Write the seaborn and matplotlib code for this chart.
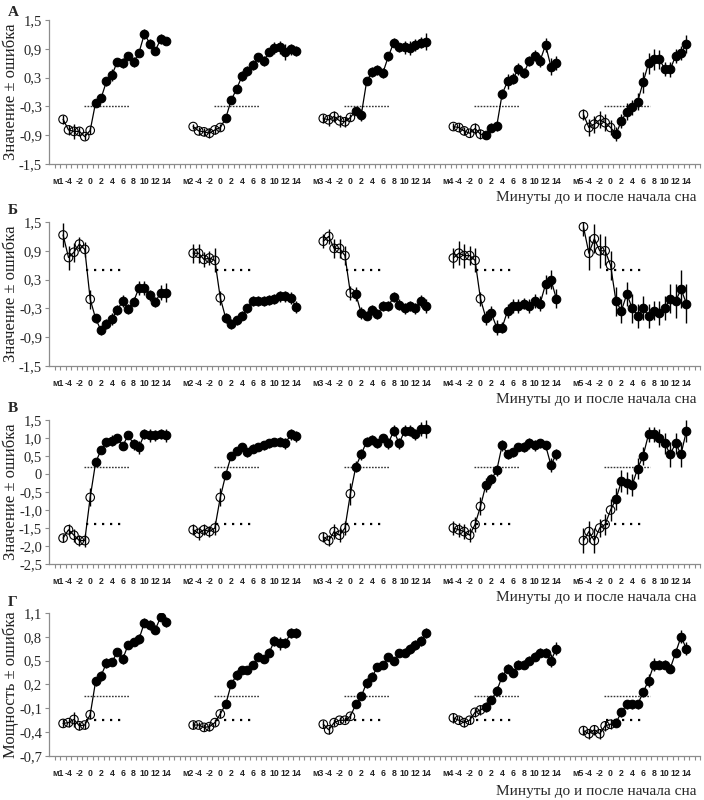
import numpy as np
import pandas as pd
import matplotlib
matplotlib.use("Agg")
import matplotlib.pyplot as plt
import seaborn as sns

# ---------------- data ----------------
minutes = list(range(-5, 15))          # minutes before / after sleep onset
n_open = 6                              # -5..0 drawn with open circles
group_names = ["м1", "м2", "м3", "м4", "м5"]
panel_letters = ["А", "Б", "В", "Г"]
y_titles = ["Значение ± ошибка", "Значение ± ошибка", "Значение ± ошибка", "Мощность ± ошибка"]
x_title = "Минуты до и после начала сна"

a_values = [
    [-0.57, -0.79, -0.82, -0.82, -0.93, -0.80, -0.22, -0.13, 0.22, 0.35, 0.63, 0.61, 0.76, 0.62, 0.82, 1.21, 1.01, 0.86, 1.10, 1.07],
    [-0.72, -0.81, -0.83, -0.86, -0.79, -0.74, -0.55, -0.17, 0.06, 0.33, 0.44, 0.56, 0.72, 0.65, 0.83, 0.92, 0.93, 0.83, 0.89, 0.85],
    [-0.55, -0.58, -0.51, -0.60, -0.62, -0.53, -0.39, -0.48, 0.22, 0.42, 0.46, 0.40, 0.74, 1.03, 0.93, 0.93, 0.92, 0.98, 1.03, 1.05],
    [-0.72, -0.74, -0.81, -0.86, -0.76, -0.88, -0.90, -0.74, -0.71, -0.04, 0.22, 0.28, 0.48, 0.39, 0.65, 0.76, 0.65, 0.98, 0.53, 0.60],
    [-0.47, -0.74, -0.67, -0.58, -0.64, -0.74, -0.88, -0.60, -0.41, -0.32, -0.20, 0.20, 0.60, 0.68, 0.68, 0.48, 0.47, 0.75, 0.81, 1.00],
]
a_errors = [
    [0.10, 0.10, 0.15, 0.10, 0.08, 0.08, 0.08, 0.08, 0.10, 0.12, 0.08, 0.10, 0.08, 0.10, 0.08, 0.10, 0.10, 0.08, 0.10, 0.06],
    [0.06, 0.08, 0.08, 0.10, 0.08, 0.08, 0.06, 0.08, 0.08, 0.10, 0.10, 0.10, 0.10, 0.10, 0.08, 0.12, 0.14, 0.16, 0.12, 0.10],
    [0.10, 0.12, 0.12, 0.12, 0.10, 0.08, 0.08, 0.12, 0.08, 0.10, 0.10, 0.10, 0.10, 0.10, 0.10, 0.14, 0.14, 0.12, 0.12, 0.18],
    [0.08, 0.10, 0.08, 0.08, 0.12, 0.10, 0.08, 0.10, 0.10, 0.10, 0.15, 0.12, 0.12, 0.10, 0.10, 0.12, 0.12, 0.14, 0.18, 0.15],
    [0.12, 0.18, 0.18, 0.18, 0.18, 0.15, 0.15, 0.15, 0.18, 0.15, 0.18, 0.22, 0.22, 0.22, 0.20, 0.15, 0.15, 0.15, 0.15, 0.18],
]

b_values = [
    [1.23, 0.76, 0.87, 1.04, 0.93, -0.11, -0.51, -0.76, -0.63, -0.52, -0.33, -0.15, -0.31, -0.16, 0.13, 0.13, -0.03, -0.17, 0.03, 0.03],
    [0.85, 0.85, 0.72, 0.75, 0.70, -0.08, -0.50, -0.62, -0.55, -0.45, -0.30, -0.15, -0.15, -0.15, -0.12, -0.10, -0.05, -0.05, -0.08, -0.27],
    [1.10, 1.20, 0.95, 0.95, 0.80, 0.02, 0.00, -0.40, -0.45, -0.33, -0.42, -0.25, -0.25, -0.06, -0.22, -0.30, -0.25, -0.30, -0.15, -0.25],
    [0.75, 0.85, 0.80, 0.80, 0.70, -0.10, -0.50, -0.40, -0.70, -0.70, -0.35, -0.25, -0.25, -0.20, -0.25, -0.15, -0.20, 0.20, 0.30, -0.10],
    [1.40, 0.85, 1.15, 0.90, 0.90, 0.60, -0.15, -0.35, 0.00, -0.30, -0.45, -0.30, -0.45, -0.35, -0.40, -0.30, -0.10, -0.15, 0.10, -0.20],
]
b_errors = [
    [0.25, 0.25, 0.20, 0.15, 0.15, 0.20, 0.10, 0.10, 0.10, 0.12, 0.10, 0.12, 0.10, 0.10, 0.15, 0.15, 0.12, 0.10, 0.15, 0.20],
    [0.20, 0.20, 0.15, 0.15, 0.25, 0.15, 0.10, 0.10, 0.10, 0.10, 0.10, 0.10, 0.10, 0.10, 0.10, 0.10, 0.12, 0.12, 0.12, 0.12],
    [0.15, 0.15, 0.20, 0.20, 0.20, 0.15, 0.15, 0.12, 0.10, 0.10, 0.10, 0.10, 0.10, 0.10, 0.12, 0.12, 0.10, 0.12, 0.12, 0.15],
    [0.20, 0.25, 0.25, 0.20, 0.25, 0.15, 0.15, 0.15, 0.15, 0.12, 0.15, 0.15, 0.15, 0.12, 0.15, 0.15, 0.15, 0.20, 0.20, 0.20],
    [0.20, 0.35, 0.30, 0.35, 0.30, 0.30, 0.30, 0.25, 0.25, 0.30, 0.25, 0.25, 0.25, 0.20, 0.25, 0.25, 0.30, 0.35, 0.40, 0.40],
]

c_values = [
    [-1.78, -1.55, -1.70, -1.85, -1.85, -0.65, 0.32, 0.67, 0.88, 0.93, 0.99, 0.78, 1.08, 0.83, 0.74, 1.11, 1.08, 1.08, 1.11, 1.08],
    [-1.55, -1.65, -1.55, -1.60, -1.50, -0.65, -0.02, 0.50, 0.65, 0.75, 0.60, 0.70, 0.75, 0.80, 0.85, 0.90, 0.90, 0.85, 1.10, 1.05],
    [-1.75, -1.85, -1.60, -1.70, -1.50, -0.55, 0.20, 0.55, 0.90, 0.95, 0.85, 1.00, 0.85, 1.20, 0.85, 1.20, 1.20, 1.10, 1.25, 1.25],
    [-1.50, -1.55, -1.60, -1.70, -1.40, -0.90, -0.30, -0.15, 0.10, 0.80, 0.55, 0.60, 0.75, 0.75, 0.85, 0.80, 0.85, 0.80, 0.25, 0.55],
    [-1.85, -1.60, -1.85, -1.50, -1.40, -1.00, -0.70, -0.20, -0.25, -0.30, 0.15, 0.50, 1.10, 1.10, 1.00, 0.85, 0.55, 0.85, 0.55, 1.20],
]
c_errors = [
    [0.12, 0.15, 0.18, 0.15, 0.18, 0.25, 0.10, 0.10, 0.12, 0.15, 0.12, 0.12, 0.10, 0.15, 0.18, 0.15, 0.18, 0.15, 0.15, 0.18],
    [0.15, 0.18, 0.15, 0.15, 0.20, 0.25, 0.10, 0.10, 0.10, 0.12, 0.12, 0.12, 0.10, 0.12, 0.12, 0.10, 0.12, 0.15, 0.15, 0.15],
    [0.15, 0.15, 0.20, 0.20, 0.20, 0.30, 0.15, 0.15, 0.12, 0.12, 0.12, 0.12, 0.15, 0.15, 0.15, 0.15, 0.15, 0.15, 0.20, 0.25],
    [0.20, 0.20, 0.20, 0.20, 0.20, 0.25, 0.20, 0.15, 0.15, 0.15, 0.12, 0.12, 0.12, 0.15, 0.15, 0.15, 0.12, 0.12, 0.20, 0.15],
    [0.35, 0.30, 0.35, 0.25, 0.30, 0.30, 0.30, 0.30, 0.30, 0.30, 0.30, 0.25, 0.20, 0.20, 0.25, 0.30, 0.35, 0.30, 0.35, 0.30],
]

d_values = [
    [-0.29, -0.28, -0.24, -0.32, -0.31, -0.18, 0.24, 0.31, 0.47, 0.48, 0.61, 0.52, 0.70, 0.74, 0.77, 0.98, 0.95, 0.89, 1.05, 0.99],
    [-0.31, -0.31, -0.34, -0.33, -0.28, -0.17, -0.05, 0.20, 0.32, 0.38, 0.38, 0.45, 0.55, 0.52, 0.60, 0.75, 0.72, 0.72, 0.85, 0.85],
    [-0.30, -0.37, -0.28, -0.25, -0.25, -0.20, -0.05, 0.05, 0.22, 0.30, 0.42, 0.45, 0.55, 0.50, 0.60, 0.60, 0.65, 0.70, 0.75, 0.85],
    [-0.22, -0.25, -0.28, -0.25, -0.15, -0.12, -0.08, 0.00, 0.12, 0.30, 0.40, 0.35, 0.45, 0.45, 0.50, 0.55, 0.60, 0.60, 0.50, 0.65],
    [-0.38, -0.42, -0.37, -0.42, -0.32, -0.30, -0.28, -0.15, -0.05, -0.05, -0.05, 0.10, 0.25, 0.45, 0.45, 0.45, 0.40, 0.60, 0.80, 0.65],
]
d_errors = [
    [0.05, 0.05, 0.10, 0.05, 0.05, 0.06, 0.06, 0.06, 0.06, 0.05, 0.04, 0.06, 0.05, 0.05, 0.06, 0.06, 0.06, 0.06, 0.05, 0.06],
    [0.05, 0.04, 0.04, 0.05, 0.04, 0.05, 0.04, 0.05, 0.06, 0.05, 0.05, 0.05, 0.06, 0.05, 0.06, 0.06, 0.08, 0.06, 0.06, 0.06],
    [0.05, 0.05, 0.04, 0.04, 0.04, 0.04, 0.05, 0.05, 0.06, 0.06, 0.05, 0.05, 0.05, 0.05, 0.05, 0.06, 0.06, 0.06, 0.06, 0.06],
    [0.06, 0.05, 0.05, 0.05, 0.06, 0.06, 0.06, 0.05, 0.06, 0.06, 0.06, 0.06, 0.06, 0.06, 0.06, 0.06, 0.06, 0.06, 0.08, 0.08],
    [0.06, 0.06, 0.06, 0.06, 0.06, 0.06, 0.06, 0.06, 0.06, 0.06, 0.06, 0.06, 0.08, 0.08, 0.06, 0.06, 0.06, 0.06, 0.08, 0.08],
]

y_limits = [(-1.5, 1.5), (-1.5, 1.5), (-2.5, 1.5), (-0.7, 1.1)]
y_ticks = [
    [-1.5, -0.9, -0.3, 0.3, 0.9, 1.5],
    [-1.5, -0.9, -0.3, 0.3, 0.9, 1.5],
    [-2.5, -2.0, -1.5, -1.0, -0.5, 0.0, 0.5, 1.0, 1.5],
    [-0.7, -0.4, -0.1, 0.2, 0.5, 0.8, 1.1],
]
y_tick_labels = [
    ["-1,5", "-0,9", "-0,3", "0,3", "0,9", "1,5"],
    ["-1,5", "-0,9", "-0,3", "0,3", "0,9", "1,5"],
    ["-2,5", "-2,0", "-1,5", "-1,0", "-0,5", "0", "0,5", "1,0", "1,5"],
    ["-0,7", "-0,4", "-0,1", "0,2", "0,5", "0,8", "1,1"],
]
# reference (threshold) lines per panel
fine_levels = [-0.3, None, 0.2, 0.05]
coarse_levels = [None, 0.5, -1.4, -0.25]

x_tick_texts = ["{g}", "-4", "-2", "0", "2", "4", "6", "8", "10", "12", "14", ""]

# ---------------- build table ----------------
slots_per_group = 24
rows = []
for p, (vals, errs) in enumerate(zip([a_values, b_values, c_values, d_values],
                                     [a_errors, b_errors, c_errors, d_errors])):
    for g in range(5):
        for i, m in enumerate(minutes):
            rows.append(dict(panel=p, group=g, minute=m,
                             x=g * slots_per_group + (m + 6),
                             value=vals[g][i], err=errs[g][i],
                             state="open" if i < n_open else "filled"))
df = pd.DataFrame(rows)

# ---------------- figure ----------------
sns.set_theme(style="white")
plt.rcParams["font.family"] = ["Liberation Serif", "DejaVu Serif"]

W, H = 704, 800
fig = plt.figure(figsize=(W / 100, H / 100), dpi=100)

axes_px = [(20, 164), (222, 366), (420, 564), (613, 756)]   # top/bottom of plot areas
left_px, right_px = 49, 700
letter_y = [12, 210, 408, 603]
xtitle_y = [198, 399, 598, 791]

tick_pos = []
tick_lab = []
for g in range(5):
    for k, t in enumerate(x_tick_texts):
        tick_pos.append(g * slots_per_group + 2 * k)
        tick_lab.append(t.format(g=group_names[g]))

grey = "#8c8c8c"
for p in range(4):
    top, bot = axes_px[p]
    ax = fig.add_axes([left_px / W, 1 - bot / H, (right_px - left_px) / W, (bot - top) / H])
    d = df[df.panel == p]

    # threshold lines
    for g in range(5):
        base = g * slots_per_group
        if fine_levels[p] is not None:
            ax.plot([base + 4.8, base + 13.2], [fine_levels[p]] * 2, color="#333333",
                    lw=1.0, ls=(0, (1.2, 1.0)), zorder=1)
        if coarse_levels[p] is not None:
            ax.plot([base + 5.2, base + 12.6], [coarse_levels[p]] * 2, color="black",
                    lw=1.6, ls=(0, (1, 2.6)), zorder=1)

    sns.lineplot(data=d, x="x", y="value", units="group", estimator=None,
                 color="black", lw=0.9, ax=ax, legend=False, zorder=2)
    ax.errorbar(d["x"], d["value"], yerr=d["err"], fmt="none", ecolor="black",
                elinewidth=1.0, capsize=0, zorder=2)
    sns.scatterplot(data=d[d.state == "filled"], x="x", y="value", color="black",
                    edgecolor="black", s=38, linewidth=0.8, ax=ax, legend=False, zorder=3)
    sns.scatterplot(data=d[d.state == "open"], x="x", y="value", facecolors="none",
                    edgecolor="black", s=38, linewidth=0.8, ax=ax, legend=False, zorder=3)

    ax.set_xlim(-1.6, 118.5)
    ax.set_ylim(*y_limits[p])
    ax.set_yticks(y_ticks[p])
    ax.set_yticklabels(y_tick_labels[p], fontsize=10.5, family=["Liberation Serif"])
    ax.set_xticks(tick_pos)
    ax.set_xticklabels(tick_lab, fontsize=6.3, fontweight="bold",
                       family=["Liberation Sans Narrow", "Liberation Sans", "DejaVu Sans"],
                       color="#222222")
    ax.set_xticks(np.arange(-0.5, 118.6, 1.0), minor=True)
    ax.tick_params(axis="x", which="major", length=0, pad=9)
    ax.tick_params(axis="x", which="minor", length=3, width=0.8, color=grey, direction="out", bottom=True)
    ax.tick_params(axis="y", which="major", length=3, width=0.8, color=grey, direction="out", left=True, pad=2)
    ax.set_xlabel("")
    ax.set_ylabel("")
    for s in ["top", "right"]:
        ax.spines[s].set_visible(False)
    for s in ["left", "bottom"]:
        ax.spines[s].set_color(grey)
        ax.spines[s].set_linewidth(0.9)

    fig.text(11 / W, 1 - (top + bot) / 2 / H, y_titles[p], rotation=90, ha="center", va="center",
             fontsize=12, color="#222222")
    fig.text(8 / W, 1 - letter_y[p] / H, panel_letters[p], ha="left", va="center",
             fontsize=11, fontweight="bold")
    fig.text(697 / W, 1 - xtitle_y[p] / H, x_title, ha="right", va="center", fontsize=11)

fig.savefig("out.png", dpi=100)
